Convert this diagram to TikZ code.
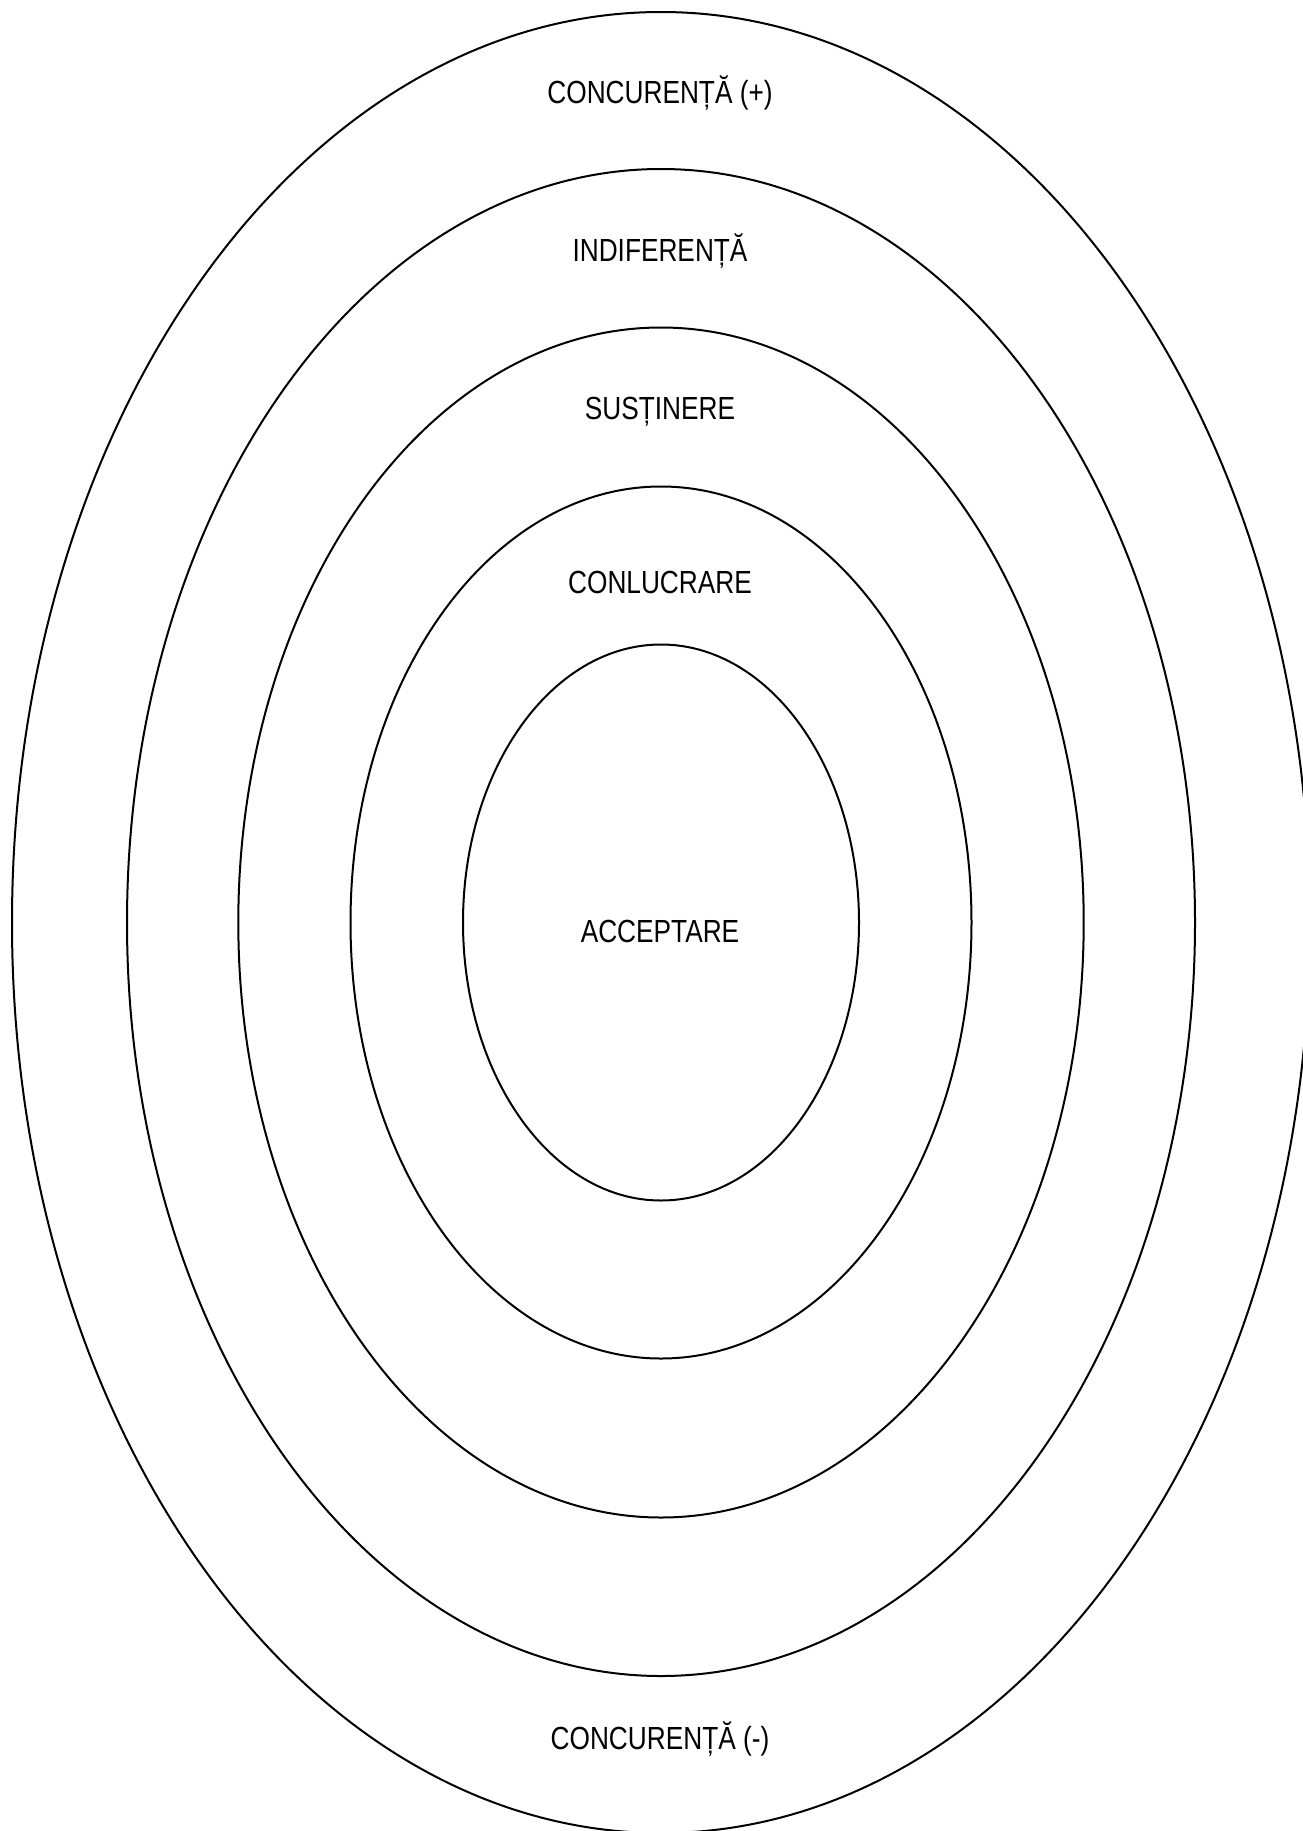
\documentclass[tikz,border=0pt]{standalone}
\usepackage{fontspec}
\setmainfont{Liberation Sans}[FakeStretch=0.82]
\begin{document}
\begin{tikzpicture}[x=0.5pt,y=-0.5pt,
  ring/.style={draw=black,line width=1pt},
  lbl/.style={anchor=base,inner sep=0pt,font=\fontsize{16}{19}\selectfont}]
\useasboundingbox (0,0) rectangle (1302,1831);
\coordinate (c) at (661,922.5);
\draw[ring] (c) ellipse [x radius=649, y radius=910.5];
\draw[ring] (c) ellipse [x radius=534, y radius=753.5];
\draw[ring] (c) ellipse [x radius=422.7, y radius=595];
\draw[ring] (c) ellipse [x radius=310.5, y radius=436];
\draw[ring] (c) ellipse [x radius=198, y radius=278];
\node[lbl] (t1) at (660,103.5) {CONCURENȚĂ (+)};
\node[lbl] (t2) at (660,261.5) {INDIFERENȚĂ};
\node[lbl] (t3) at (660,419.5) {SUSȚINERE};
\node[lbl] (t4) at (660,593.5) {CONLUCRARE};
\node[lbl] (t5) at (660,942.5) {ACCEPTARE};
\node[lbl] (t6) at (660,1749.5) {CONCURENȚĂ (-)};
\end{tikzpicture}
\end{document}
